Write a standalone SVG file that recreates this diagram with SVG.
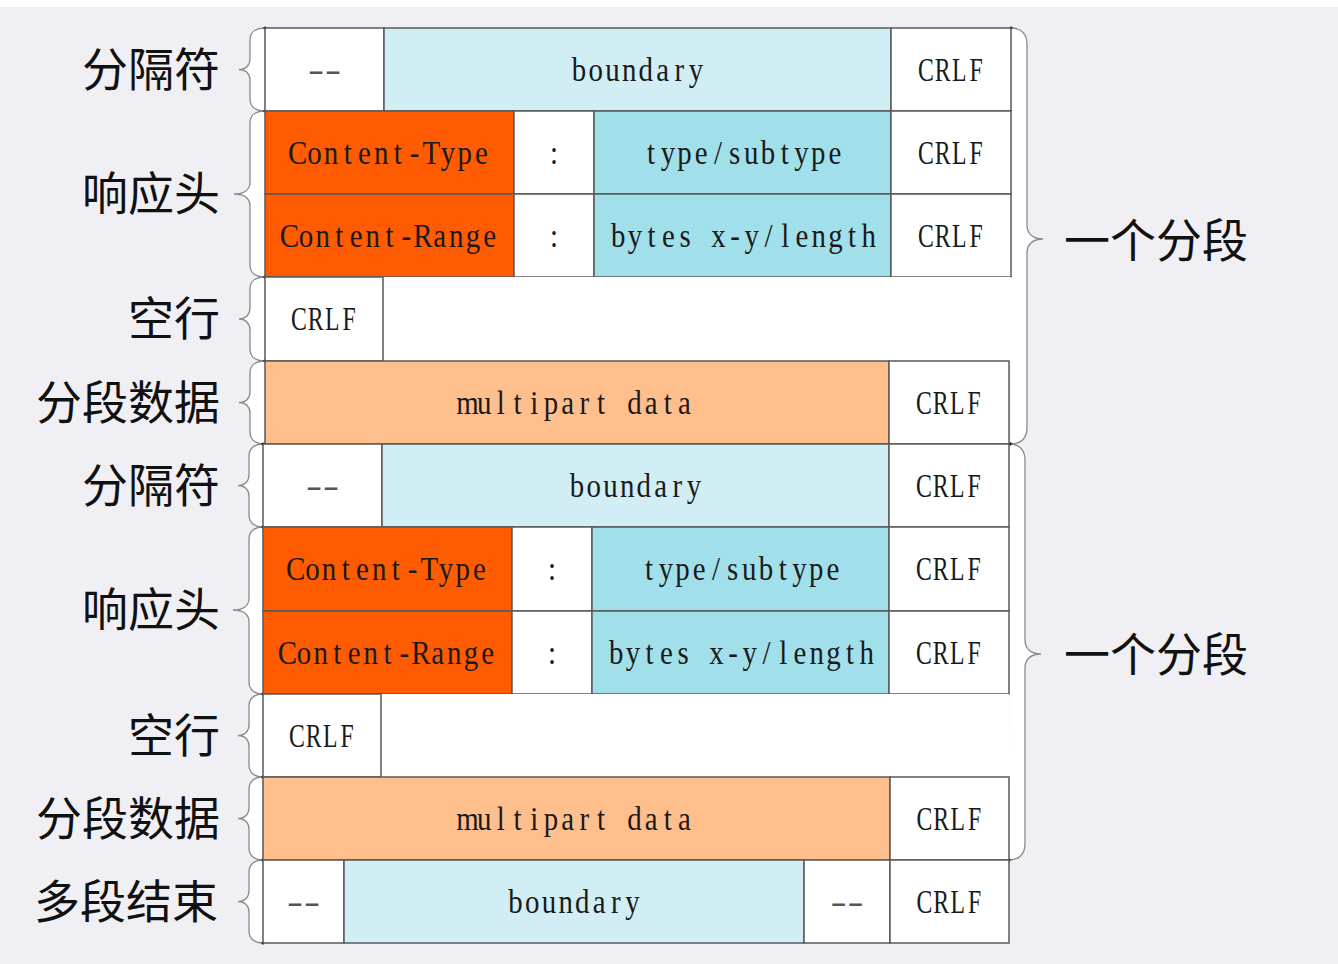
<svg xmlns="http://www.w3.org/2000/svg" width="1338" height="964" viewBox="0 0 1338 964">
<style>
.c{stroke:#5a5a5a;stroke-width:1.5}
.w{fill:#ffffff}
.or{fill:#ff5b00}
.bd{fill:#d1eef4}
.ty{fill:#a1e0eb}
.pe{fill:#ffbf8d}
.t{font-family:"Liberation Serif",serif;font-size:34px;fill:#1a1a1a;text-anchor:middle}
.d{fill:#555}
.lbl{font-family:"Noto Sans CJK SC","Noto Sans",sans-serif;font-size:46px;fill:#111;text-anchor:end}
.lblr{font-family:"Noto Sans CJK SC","Noto Sans",sans-serif;font-size:46px;fill:#111;text-anchor:start}
.br{fill:#ffffff;stroke:#8a8a8a;stroke-width:1.3;marker-start:url(#dot);marker-end:url(#dot)}
</style>
<defs>
<marker id="dot" markerWidth="4" markerHeight="4" refX="2" refY="2" markerUnits="userSpaceOnUse"><circle cx="2" cy="2" r="1.6" fill="#111"/></marker>
</defs>
<rect x="0" y="0" width="1338" height="964" fill="#ffffff"/>
<rect x="0" y="7" width="1338" height="957" fill="#f0eff4"/>

<g id="connectors">
<path class="br" d="M265,28 C256,28 250,32 250,40 L250,59 C250,65 246,69.5 239,69.5 C246,69.5 250,74 250,80 L250,99 C250,107 256,111 265,111"/>
<path class="br" d="M265,111 C256,111 250,115 250,123 L250,182 C250,189 245,194 234,194 C245,194 250,199 250,206 L250,265 C250,273 256,277 265,277"/>
<path class="br" d="M265,277 C256,277 250,281 250,289 L250,308 C250,314 246,319 239,319 C246,319 250,324 250,330 L250,349 C250,357 256,361 265,361"/>
<path class="br" d="M265,361 C256,361 250,365 250,373 L250,392 C250,398 246,402.5 239,402.5 C246,402.5 250,407 250,413 L250,432 C250,440 256,444 265,444"/>
<path class="br" d="M263,444 C255,444 249,448 249,456 L249,475 C249,481 245,485.5 238,485.5 C245,485.5 249,490 249,496 L249,515 C249,523 255,527 263,527"/>
<path class="br" d="M263,527 C255,527 249,531 249,539 L249,598 C249,605 244,610 233,610 C244,610 249,615 249,622 L249,682 C249,690 255,694 263,694"/>
<path class="br" d="M263,694 C255,694 249,698 249,706 L249,725 C249,731 245,735.5 238,735.5 C245,735.5 249,740 249,746 L249,765 C249,773 255,777 263,777"/>
<path class="br" d="M263,777 C255,777 249,781 249,789 L249,808 C249,814 245,818.5 238,818.5 C245,818.5 249,823 249,829 L249,848 C249,856 255,860 263,860"/>
<path class="br" d="M263,860 C255,860 249,864 249,872 L249,891 C249,897 245,901.5 238,901.5 C245,901.5 249,906 249,912 L249,931 C249,939 255,943 263,943"/>
<path class="br" d="M1011,28 C1021,28 1027,34 1027,44 L1027,225 C1027,233 1032,239 1043,239 C1032,239 1027,245 1027,253 L1027,428 C1027,438 1021,444 1011,444"/>
<path class="br" d="M1010,444 C1019,444 1025,450 1025,460 L1025,640 C1025,648 1030,654 1041,654 C1030,654 1025,660 1025,668 L1025,844 C1025,854 1019,860 1009,860"/>
</g>

<g id="labels">
<text class="lbl" x="220" y="86">分隔符</text>
<text class="lbl" x="220" y="210">响应头</text>
<text class="lbl" x="220" y="335">空行</text>
<text class="lbl" x="220" y="419">分段数据</text>
<text class="lbl" x="220" y="502">分隔符</text>
<text class="lbl" x="220" y="626">响应头</text>
<text class="lbl" x="220" y="752">空行</text>
<text class="lbl" x="220" y="835">分段数据</text>
<text class="lbl" x="218" y="918">多段结束</text>
<text class="lblr" x="1064" y="257">一个分段</text>
<text class="lblr" x="1064" y="671">一个分段</text>
</g>

<g id="seg1-boundary">
<rect class="c w" x="265" y="28" width="119" height="83"/>
<rect class="c bd" x="384" y="28" width="507" height="83"/>
<rect class="c w" x="891" y="28" width="120" height="83"/>
<text class="t d" transform="translate(324.5,80.5) scale(1.42,1)" x="-6 6">--</text>
<text class="t" transform="translate(637.5,80.5) scale(0.85,1)" x="-68.8 -49.1 -29.5 -9.8 9.8 29.5 49.1 68.8">boundary</text>
<text class="t" transform="translate(951,80.5) scale(0.7,1)" x="-35.8 -11.9 11.9 35.8">CRLF</text>
</g>

<g id="seg1-content-type">
<rect class="c or" x="265" y="111" width="249" height="83"/>
<rect class="c w" x="514" y="111" width="80" height="83"/>
<rect class="c ty" x="594" y="111" width="297" height="83"/>
<rect class="c w" x="891" y="111" width="120" height="83"/>
<text class="t" transform="translate(389.5,163.5) scale(0.85,1)" x="-108.1 -88.4 -68.8 -49.1 -29.5 -9.8 9.8 29.5 49.1 68.8 88.4 108.1">Content-Type</text>
<text class="t" transform="translate(554,163.5) scale(0.85,1)" x="0">:</text>
<text class="t" transform="translate(743,163.5) scale(0.85,1)" x="-108.1 -88.4 -68.8 -49.1 -29.5 -9.8 9.8 29.5 49.1 68.8 88.4 108.1">type/subtype</text>
<text class="t" transform="translate(951,163.5) scale(0.7,1)" x="-35.8 -11.9 11.9 35.8">CRLF</text>
</g>

<g id="seg1-content-range">
<rect class="c or" x="265" y="194" width="249" height="83"/>
<rect class="c w" x="514" y="194" width="80" height="83"/>
<rect class="c ty" x="594" y="194" width="297" height="83"/>
<rect class="c w" x="891" y="194" width="120" height="83"/>
<text class="t" transform="translate(389.5,246.5) scale(0.85,1)" x="-117.9 -98.3 -78.6 -59 -39.3 -19.7 0 19.7 39.3 59 78.6 98.3 117.9">Content-Range</text>
<text class="t" transform="translate(554,246.5) scale(0.85,1)" x="0">:</text>
<text class="t" transform="translate(743.5,246.5) scale(0.85,1)" x="-147.4 -127.7 -108.1 -88.4 -68.8 -49.1 -29.5 -9.8 9.8 29.5 49.1 68.8 88.4 108.1 127.7 147.4">bytes x-y/length</text>
<text class="t" transform="translate(951,246.5) scale(0.7,1)" x="-35.8 -11.9 11.9 35.8">CRLF</text>
</g>

<g id="seg1-blank">
<rect class="w" x="265" y="277" width="746" height="84"/>
<rect class="c w" x="265" y="277" width="118" height="84"/>
<text class="t" transform="translate(324,330) scale(0.7,1)" x="-35.8 -11.9 11.9 35.8">CRLF</text>
</g>

<g id="seg1-data">
<rect class="c pe" x="265" y="361" width="624" height="83"/>
<rect class="c w" x="889" y="361" width="120" height="83"/>
<text class="t" transform="translate(576,413.5) scale(0.85,1)" x="-127.7 -108.1 -88.4 -68.8 -49.1 -29.5 -9.8 9.8 29.5 49.1 68.8 88.4 108.1 127.7">multipart data</text>
<text class="t" transform="translate(949,413.5) scale(0.7,1)" x="-35.8 -11.9 11.9 35.8">CRLF</text>
</g>

<g id="seg2-boundary">
<rect class="c w" x="263" y="444" width="119" height="83"/>
<rect class="c bd" x="382" y="444" width="507" height="83"/>
<rect class="c w" x="889" y="444" width="120" height="83"/>
<text class="t d" transform="translate(322.5,496.5) scale(1.42,1)" x="-6 6">--</text>
<text class="t" transform="translate(635.5,496.5) scale(0.85,1)" x="-68.8 -49.1 -29.5 -9.8 9.8 29.5 49.1 68.8">boundary</text>
<text class="t" transform="translate(949,496.5) scale(0.7,1)" x="-35.8 -11.9 11.9 35.8">CRLF</text>
</g>

<g id="seg2-content-type">
<rect class="c or" x="263" y="527" width="249" height="84"/>
<rect class="c w" x="512" y="527" width="80" height="84"/>
<rect class="c ty" x="592" y="527" width="297" height="84"/>
<rect class="c w" x="889" y="527" width="120" height="84"/>
<text class="t" transform="translate(387.5,580) scale(0.85,1)" x="-108.1 -88.4 -68.8 -49.1 -29.5 -9.8 9.8 29.5 49.1 68.8 88.4 108.1">Content-Type</text>
<text class="t" transform="translate(552,580) scale(0.85,1)" x="0">:</text>
<text class="t" transform="translate(741,580) scale(0.85,1)" x="-108.1 -88.4 -68.8 -49.1 -29.5 -9.8 9.8 29.5 49.1 68.8 88.4 108.1">type/subtype</text>
<text class="t" transform="translate(949,580) scale(0.7,1)" x="-35.8 -11.9 11.9 35.8">CRLF</text>
</g>

<g id="seg2-content-range">
<rect class="c or" x="263" y="611" width="249" height="83"/>
<rect class="c w" x="512" y="611" width="80" height="83"/>
<rect class="c ty" x="592" y="611" width="297" height="83"/>
<rect class="c w" x="889" y="611" width="120" height="83"/>
<text class="t" transform="translate(387.5,663.5) scale(0.85,1)" x="-117.9 -98.3 -78.6 -59 -39.3 -19.7 0 19.7 39.3 59 78.6 98.3 117.9">Content-Range</text>
<text class="t" transform="translate(552,663.5) scale(0.85,1)" x="0">:</text>
<text class="t" transform="translate(741.5,663.5) scale(0.85,1)" x="-147.4 -127.7 -108.1 -88.4 -68.8 -49.1 -29.5 -9.8 9.8 29.5 49.1 68.8 88.4 108.1 127.7 147.4">bytes x-y/length</text>
<text class="t" transform="translate(949,663.5) scale(0.7,1)" x="-35.8 -11.9 11.9 35.8">CRLF</text>
</g>

<g id="seg2-blank">
<rect class="w" x="263" y="694" width="746" height="83"/>
<rect class="c w" x="263" y="694" width="118" height="83"/>
<text class="t" transform="translate(322,746.5) scale(0.7,1)" x="-35.8 -11.9 11.9 35.8">CRLF</text>
</g>

<g id="seg2-data">
<rect class="c pe" x="263" y="777" width="627" height="83"/>
<rect class="c w" x="890" y="777" width="119" height="83"/>
<text class="t" transform="translate(576,829.5) scale(0.85,1)" x="-127.7 -108.1 -88.4 -68.8 -49.1 -29.5 -9.8 9.8 29.5 49.1 68.8 88.4 108.1 127.7">multipart data</text>
<text class="t" transform="translate(949.5,829.5) scale(0.7,1)" x="-35.8 -11.9 11.9 35.8">CRLF</text>
</g>

<g id="end-boundary">
<rect class="c w" x="263" y="860" width="81" height="83"/>
<rect class="c bd" x="344" y="860" width="460" height="83"/>
<rect class="c w" x="804" y="860" width="86" height="83"/>
<rect class="c w" x="890" y="860" width="119" height="83"/>
<text class="t d" transform="translate(303.5,912.5) scale(1.42,1)" x="-6 6">--</text>
<text class="t" transform="translate(574,912.5) scale(0.85,1)" x="-68.8 -49.1 -29.5 -9.8 9.8 29.5 49.1 68.8">boundary</text>
<text class="t d" transform="translate(847,912.5) scale(1.42,1)" x="-6 6">--</text>
<text class="t" transform="translate(949.5,912.5) scale(0.7,1)" x="-35.8 -11.9 11.9 35.8">CRLF</text>
</g>
</svg>
